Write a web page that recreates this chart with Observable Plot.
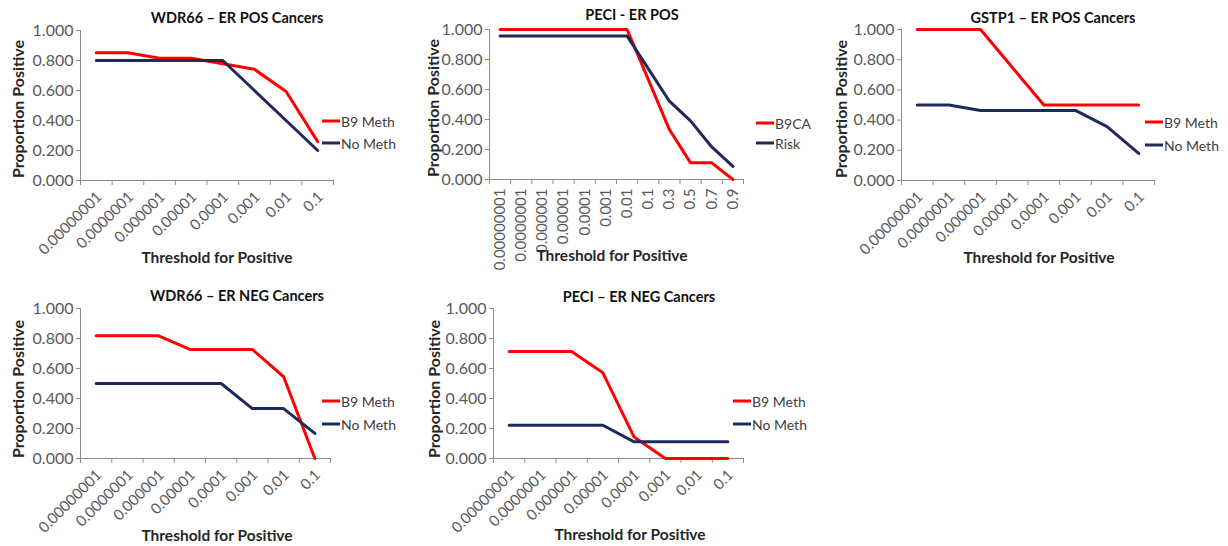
<!DOCTYPE html>
<html>
<head>
<meta charset="utf-8">
<script src="https://cdn.jsdelivr.net/npm/d3@7"></script>
<script src="https://cdn.jsdelivr.net/npm/@observablehq/plot@0.6"></script>
<style>
  body { margin: 0; background: #fff; }
  #root { position: relative; width: 1228px; height: 546px; overflow: hidden; background: #fff; font-family: Lato, "Open Sans", sans-serif; }
  .panel { position: absolute; }
  .title { position: absolute; transform: translate(-50%, -50%); white-space: nowrap; font-weight: bold; font-size: 14.5px; color: #111; }
  .xtitle { position: absolute; transform: translate(-50%, -50%); white-space: nowrap; font-weight: bold; font-size: 15.5px; color: #262626; }
  .ytitle { position: absolute; transform: translate(-50%, -50%) rotate(-90deg); white-space: nowrap; font-weight: bold; font-size: 16px; color: #262626; }
  .leg { position: absolute; transform: translateY(-50%); white-space: nowrap; font-size: 14px; color: #404040; display: flex; align-items: center; }
  .leg .sw { display: inline-block; width: 18px; height: 3px; margin-right: 1px; }
</style>
</head>
<body>
<div id="root"></div>
<script>
// ---- data ----
const thresholds8 = ["0.00000001", "0.0000001", "0.000001", "0.00001", "0.0001", "0.001", "0.01", "0.1"];
const thresholds12 = ["0.00000001", "0.0000001", "0.000001", "0.00001", "0.0001", "0.001", "0.01", "0.1", "0.3", "0.5", "0.7", "0.9"];
const yTicks = [0, 0.2, 0.4, 0.6, 0.8, 1.0];

const methNames = ["B9 Meth", "No Meth"];
const peciPosNames = ["B9CA", "Risk"];
const seriesColors = ["#ff0000", "#1f2a5c"];

const wdr66PosB9 = [0.852, 0.852, 0.815, 0.815, 0.778, 0.741, 0.593, 0.259];
const wdr66PosNo = [0.8, 0.8, 0.8, 0.8, 0.8, 0.6, 0.4, 0.2];

const peciPosB9CA = [1, 1, 1, 1, 1, 1, 1, 0.667, 0.333, 0.111, 0.111, 0];
const peciPosRisk = [0.957, 0.957, 0.957, 0.957, 0.957, 0.957, 0.957, 0.739, 0.522, 0.391, 0.217, 0.087];

const gstp1PosB9 = [1, 1, 1, 0.75, 0.5, 0.5, 0.5, 0.5];
const gstp1PosNo = [0.5, 0.5, 0.464, 0.464, 0.464, 0.464, 0.357, 0.179];

const wdr66NegB9 = [0.818, 0.818, 0.818, 0.727, 0.727, 0.727, 0.545, 0];
const wdr66NegNo = [0.5, 0.5, 0.5, 0.5, 0.5, 0.333, 0.333, 0.167];

const peciNegB9 = [0.714, 0.714, 0.714, 0.571, 0.143, 0, 0, 0];
const peciNegNo = [0.222, 0.222, 0.222, 0.222, 0.111, 0.111, 0.111, 0.111];

const panelTitles = ["WDR66 – ER POS Cancers", "PECI - ER POS", "GSTP1 – ER POS Cancers", "WDR66 – ER NEG Cancers", "PECI – ER NEG Cancers"];
const xAxisTitle = "Threshold for Positive";
const yAxisTitle = "Proportion Positive";

// ---- layout (pixels) ----
const panels = [
  { title: panelTitles[0], cats: thresholds8, names: methNames, series: [wdr66PosB9, wdr66PosNo], rotate: -45,
    box: {x: 0, y: 0, w: 410, h: 275}, plot: {x0: 80, x1: 333, y0: 30, y1: 180},
    t: [237, 17], xt: [217, 257], yt: [17, 109], leg: {x: 322, y: [121, 143]} },
  { title: panelTitles[1], cats: thresholds12, names: peciPosNames, series: [peciPosB9CA, peciPosRisk], rotate: -90,
    box: {x: 410, y: 0, w: 410, h: 275}, plot: {x0: 489, x1: 743, y0: 29, y1: 179},
    t: [632, 14], xt: [612, 255], yt: [432, 108], leg: {x: 756, y: [123, 143]} },
  { title: panelTitles[2], cats: thresholds8, names: methNames, series: [gstp1PosB9, gstp1PosNo], rotate: -45,
    box: {x: 820, y: 0, w: 408, h: 275}, plot: {x0: 901, x1: 1154, y0: 29, y1: 180},
    t: [1053, 17], xt: [1039, 257], yt: [840, 109], leg: {x: 1145, y: [122, 145]} },
  { title: panelTitles[3], cats: thresholds8, names: methNames, series: [wdr66NegB9, wdr66NegNo], rotate: -45,
    box: {x: 0, y: 275, w: 410, h: 271}, plot: {x0: 80, x1: 330, y0: 308, y1: 458},
    t: [237, 295], xt: [217, 535], yt: [17, 389], leg: {x: 322, y: [401, 424]} },
  { title: panelTitles[4], cats: thresholds8, names: methNames, series: [peciNegB9, peciNegNo], rotate: -45,
    box: {x: 410, y: 275, w: 410, h: 271}, plot: {x0: 493, x1: 743, y0: 308, y1: 458},
    t: [639, 296], xt: [630, 534], yt: [433, 389], leg: {x: 733, y: [401, 424]} }
];

const root = document.getElementById("root");
const FONT = "Lato, 'Open Sans', sans-serif";

function addDiv(cls, text, x, y) {
  const d = document.createElement("div");
  d.className = cls;
  d.textContent = text;
  d.style.left = x + "px";
  d.style.top = y + "px";
  root.appendChild(d);
  return d;
}

for (const p of panels) {
  const n = p.cats.length;
  const data = p.series.flatMap((vals, k) => vals.map((v, i) => ({i: i + 0.5, v, s: p.names[k]})));
  const diag = p.rotate === -45;
  const chart = Plot.plot({
    width: p.box.w,
    height: p.box.h,
    marginLeft: p.plot.x0 - p.box.x,
    marginRight: p.box.x + p.box.w - p.plot.x1,
    marginTop: p.plot.y0 - p.box.y,
    marginBottom: p.box.y + p.box.h - p.plot.y1,
    x: {domain: [0, n]},
    y: {domain: [0, 1]},
    color: {domain: p.names, range: seriesColors},
    style: {fontFamily: FONT, background: "transparent", overflow: "visible"},
    marks: [
      Plot.ruleY([0], {stroke: "#8c8c8c"}),
      Plot.ruleX([0], {stroke: "#8c8c8c"}),
      Plot.axisY({ticks: yTicks, tickFormat: d3.format(".3f"), tickSize: 4, tickPadding: 3, stroke: "#8c8c8c", fill: "#595959", fontSize: 16, label: null}),
      Plot.axisX({ticks: d3.range(n + 1), tickSize: 5, tickFormat: () => "", stroke: "#8c8c8c", label: null}),
      Plot.axisX({ticks: d3.range(n).map(i => i + 0.5), tickFormat: d => p.cats[Math.floor(d)], tickSize: 0,
        tickPadding: diag ? 14 : 9, dx: diag ? 3 : 0,
        tickRotate: p.rotate, textAnchor: "end", lineAnchor: "middle", fill: "#595959", fontSize: 15, label: null}),
      Plot.line(data, {x: "i", y: "v", stroke: "s", z: "s", strokeWidth: 3})
    ]
  });
  chart.classList.add("panel");
  chart.style.left = p.box.x + "px";
  chart.style.top = p.box.y + "px";
  root.appendChild(chart);

  addDiv("title", p.title, p.t[0], p.t[1]);
  addDiv("xtitle", xAxisTitle, p.xt[0], p.xt[1]);
  addDiv("ytitle", yAxisTitle, p.yt[0], p.yt[1]);
  p.names.forEach((name, k) => {
    const d = document.createElement("div");
    d.className = "leg";
    d.style.left = p.leg.x + "px";
    d.style.top = p.leg.y[k] + "px";
    const sw = document.createElement("span");
    sw.className = "sw";
    sw.style.background = seriesColors[k];
    d.appendChild(sw);
    d.appendChild(document.createTextNode(name));
    root.appendChild(d);
  });
}
</script>
</body>
</html>
